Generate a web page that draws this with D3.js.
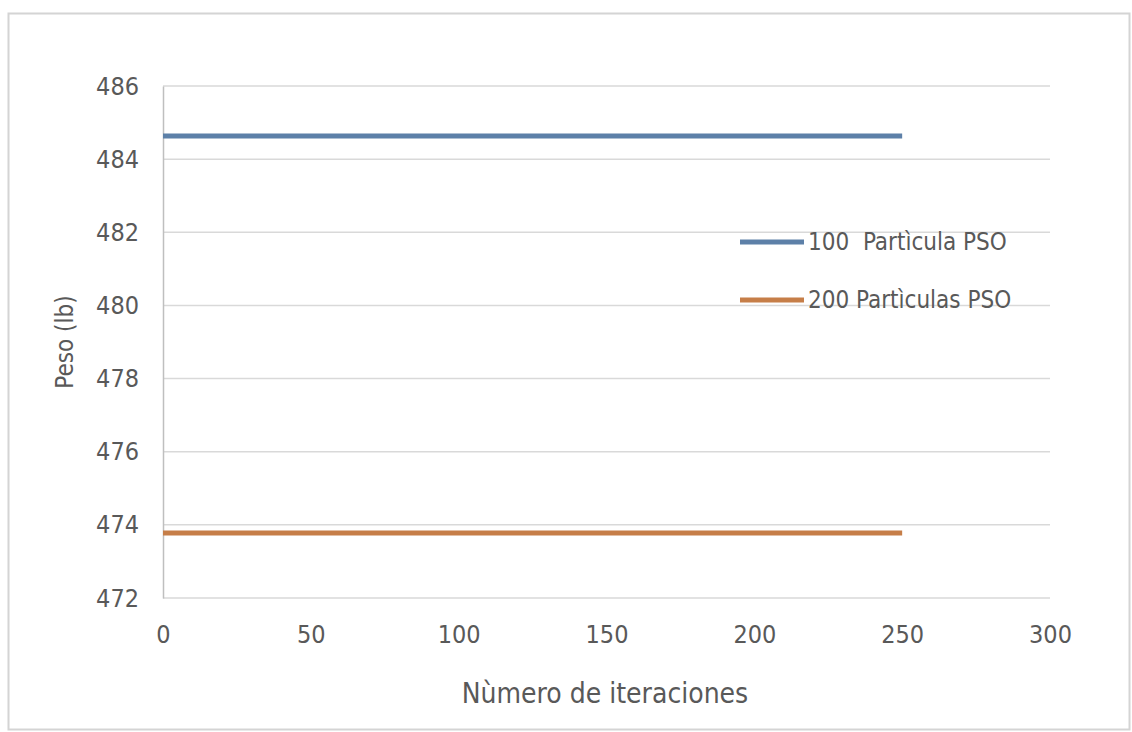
<!DOCTYPE html>
<html>
<head>
<meta charset="utf-8">
<script src="https://cdn.jsdelivr.net/npm/d3@7"></script>
<style>
  body { margin: 0; background: #fff; }
  svg text { font-family: "DejaVu Sans Condensed", "Liberation Sans Narrow", sans-serif; fill: #595959; }
</style>
</head>
<body>
<svg id="chart" width="1132" height="732"></svg>
<script>
// data
var seriesNames = ["100  Partìcula PSO", "200 Partìculas PSO"];
var seriesColors = ["#5d80a8", "#c67e48"];
var iterations = [0, 250];
var peso100 = [484.63, 484.63];
var peso200 = [473.78, 473.78];
var xTicks = [0, 50, 100, 150, 200, 250, 300];
var yTicks = [472, 474, 476, 478, 480, 482, 484, 486];

var svg = d3.select("#chart");

// outer frame
svg.append("rect")
  .attr("x", 8.5).attr("y", 13.5)
  .attr("width", 1121).attr("height", 716)
  .attr("fill", "#fff")
  .attr("stroke", "#d4d4d4").attr("stroke-width", 2);

var xScale = d3.scaleLinear().domain([0, 300]).range([163, 1050]);
var yScale = d3.scaleLinear().domain([472, 486]).range([598, 86]);

// gridlines
svg.append("g").selectAll("line")
  .data(yTicks)
  .join("line")
  .attr("x1", xScale(0)).attr("x2", xScale(300))
  .attr("y1", function(d) { return yScale(d); })
  .attr("y2", function(d) { return yScale(d); })
  .attr("stroke", "#d9d9d9").attr("stroke-width", 1.5);

// y axis
var yAxis = svg.append("g")
  .attr("transform", "translate(" + xScale(0) + ",0)")
  .call(d3.axisLeft(yScale).tickValues(yTicks).tickSize(0).tickPadding(24));
yAxis.select(".domain").attr("stroke", "#bfbfbf").attr("stroke-width", 1.5);
yAxis.selectAll("text").style("font-size", "25px").attr("fill", "#595959");

// x axis
var xAxis = svg.append("g")
  .attr("transform", "translate(0," + yScale(472) + ")")
  .call(d3.axisBottom(xScale).tickValues(xTicks).tickSize(0).tickPadding(27));
xAxis.select(".domain").remove();
xAxis.selectAll("text").style("font-size", "25px").attr("fill", "#595959");

// lines
var line = d3.line()
  .x(function(d) { return xScale(d[0]); })
  .y(function(d) { return yScale(d[1]); });

[peso100, peso200].forEach(function(vals, i) {
  svg.append("path")
    .datum(iterations.map(function(x, j) { return [x, vals[j]]; }))
    .attr("d", line)
    .attr("fill", "none")
    .attr("stroke", seriesColors[i])
    .attr("stroke-width", 5);
});

// legend
var legend = svg.append("g");
var legendY = [242, 300];
seriesNames.forEach(function(name, i) {
  legend.append("line")
    .attr("x1", 740).attr("x2", 804)
    .attr("y1", legendY[i]).attr("y2", legendY[i])
    .attr("stroke", seriesColors[i]).attr("stroke-width", 5);
  legend.append("text")
    .attr("x", 808).attr("y", legendY[i])
    .attr("dy", "0.35em")
    .style("font-size", "24px")
    .style("white-space", "pre")
    .text(name);
});

// axis titles
svg.append("text")
  .attr("x", 605).attr("y", 693)
  .attr("dy", "0.35em")
  .attr("text-anchor", "middle")
  .style("font-size", "28px")
  .text("Nùmero de iteraciones");

svg.append("text")
  .attr("transform", "translate(65,342) rotate(-90)")
  .attr("dy", "0.35em")
  .attr("text-anchor", "middle")
  .style("font-size", "24px")
  .text("Peso (lb)");
</script>
</body>
</html>
